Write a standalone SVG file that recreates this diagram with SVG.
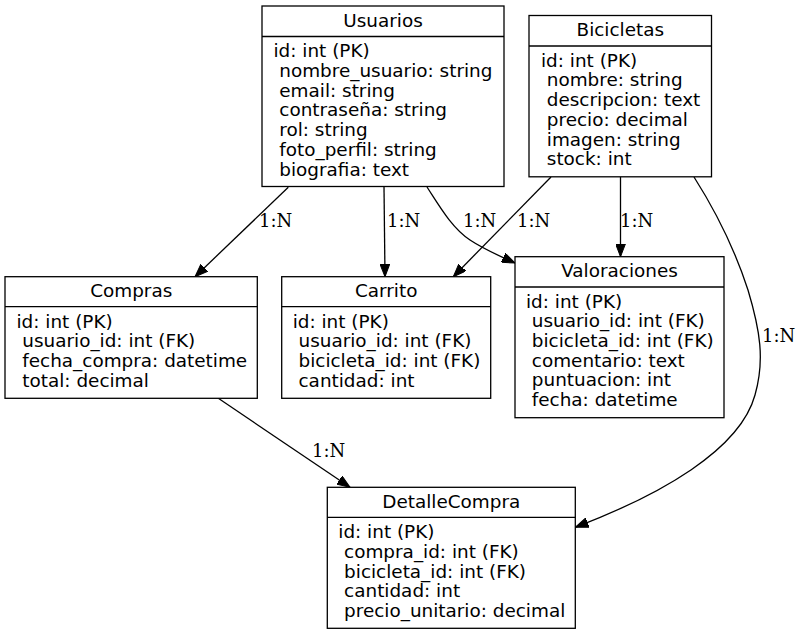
<svg xmlns="http://www.w3.org/2000/svg" width="799" height="635" viewBox="0 0 799 635">
<defs>
<style>
.box{fill:#fff;stroke:#000;stroke-width:1.3}
.div{stroke:#000;stroke-width:1.3}
.h{font-family:"DejaVu Sans",sans-serif;font-size:18.4px;text-anchor:middle;fill:#000}
.f{font-family:"DejaVu Sans",sans-serif;font-size:18.4px;fill:#000}
.e{fill:none;stroke:#000;stroke-width:1.3}
.l{font-family:"DejaVu Serif",serif;font-size:18px;fill:#000}
</style>
<marker id="arr" viewBox="0 0 13 10" refX="13" refY="5" markerWidth="13" markerHeight="10" markerUnits="userSpaceOnUse" orient="auto">
<path d="M0,0 L13,5 L0,10 z" fill="#000" stroke="#000" stroke-width="1"/>
</marker>
</defs>
<rect width="799" height="635" fill="#fff"/>

<g id="connectors">
<path class="e" d="M288.3,187.3 L195,276.7" marker-end="url(#arr)"/>
<path class="e" d="M384,187 L385,276.7" marker-end="url(#arr)"/>
<path class="e" d="M427,187 C440,207 452,228 470,240 C482,248 497,255 515,263" marker-end="url(#arr)"/>
<path class="e" d="M551,177 L453.3,276.7" marker-end="url(#arr)"/>
<path class="e" d="M620.5,177 L620.5,256.7" marker-end="url(#arr)"/>
<path class="e" d="M694,177 C715,210 735,250 748,290 C760,330 765,360 755,395 C740,450 660,495 575.3,527.3" marker-end="url(#arr)"/>
<path class="e" d="M218.3,398.3 L350,487.3" marker-end="url(#arr)"/>
<text class="l" x="259" y="227">1:N</text>
<text class="l" x="387" y="227">1:N</text>
<text class="l" x="463" y="227">1:N</text>
<text class="l" x="517" y="227">1:N</text>
<text class="l" x="620" y="227">1:N</text>
<text class="l" x="762" y="342">1:N</text>
<text class="l" x="312" y="457">1:N</text>
</g>

<g id="Usuarios">
<rect class="box" x="262" y="6" width="242" height="180.5"/>
<line class="div" x1="262" y1="36.5" x2="504" y2="36.5"/>
<text class="h" x="383" y="26.7">Usuarios</text>
<text class="f" x="273.5" y="57.3">id: int (PK)</text>
<text class="f" x="279.3" y="77">nombre_usuario: string</text>
<text class="f" x="279.3" y="96.7">email: string</text>
<text class="f" x="279.3" y="116.4">contraseña: string</text>
<text class="f" x="279.3" y="136.1">rol: string</text>
<text class="f" x="279.3" y="155.8">foto_perfil: string</text>
<text class="f" x="279.3" y="175.5">biografia: text</text>
</g>

<g id="Bicicletas">
<rect class="box" x="529" y="15.5" width="182.5" height="161.3"/>
<line class="div" x1="529" y1="46" x2="711.5" y2="46"/>
<text class="h" x="620.3" y="35.9">Bicicletas</text>
<text class="f" x="541" y="66.7">id: int (PK)</text>
<text class="f" x="546.8" y="86.4">nombre: string</text>
<text class="f" x="546.8" y="106.1">descripcion: text</text>
<text class="f" x="546.8" y="125.8">precio: decimal</text>
<text class="f" x="546.8" y="145.5">imagen: string</text>
<text class="f" x="546.8" y="165.2">stock: int</text>
</g>

<g id="Compras">
<rect class="box" x="5" y="276.7" width="252.3" height="121.6"/>
<line class="div" x1="5" y1="306.7" x2="257.3" y2="306.7"/>
<text class="h" x="131.2" y="297">Compras</text>
<text class="f" x="16.5" y="327.6">id: int (PK)</text>
<text class="f" x="22.3" y="347.3">usuario_id: int (FK)</text>
<text class="f" x="22.3" y="367">fecha_compra: datetime</text>
<text class="f" x="22.3" y="386.7">total: decimal</text>
</g>

<g id="Carrito">
<rect class="box" x="281.7" y="276.7" width="209" height="121.6"/>
<line class="div" x1="281.7" y1="306.7" x2="490.7" y2="306.7"/>
<text class="h" x="386.2" y="297">Carrito</text>
<text class="f" x="292.7" y="327.6">id: int (PK)</text>
<text class="f" x="298.5" y="347.3">usuario_id: int (FK)</text>
<text class="f" x="298.5" y="367">bicicleta_id: int (FK)</text>
<text class="f" x="298.5" y="386.7">cantidad: int</text>
</g>

<g id="Valoraciones">
<rect class="box" x="515" y="256.7" width="209" height="161"/>
<line class="div" x1="515" y1="287" x2="724" y2="287"/>
<text class="h" x="619.5" y="277.2">Valoraciones</text>
<text class="f" x="526" y="307.5">id: int (PK)</text>
<text class="f" x="531.8" y="327.2">usuario_id: int (FK)</text>
<text class="f" x="531.8" y="346.9">bicicleta_id: int (FK)</text>
<text class="f" x="531.8" y="366.6">comentario: text</text>
<text class="f" x="531.8" y="386.3">puntuacion: int</text>
<text class="f" x="531.8" y="406">fecha: datetime</text>
</g>

<g id="DetalleCompra">
<rect class="box" x="327.3" y="487.3" width="248" height="141"/>
<line class="div" x1="327.3" y1="517.3" x2="575.3" y2="517.3"/>
<text class="h" x="451.3" y="508">DetalleCompra</text>
<text class="f" x="338.3" y="538.3">id: int (PK)</text>
<text class="f" x="344.1" y="558">compra_id: int (FK)</text>
<text class="f" x="344.1" y="577.7">bicicleta_id: int (FK)</text>
<text class="f" x="344.1" y="597.4">cantidad: int</text>
<text class="f" x="344.1" y="617.1">precio_unitario: decimal</text>
</g>
</svg>
